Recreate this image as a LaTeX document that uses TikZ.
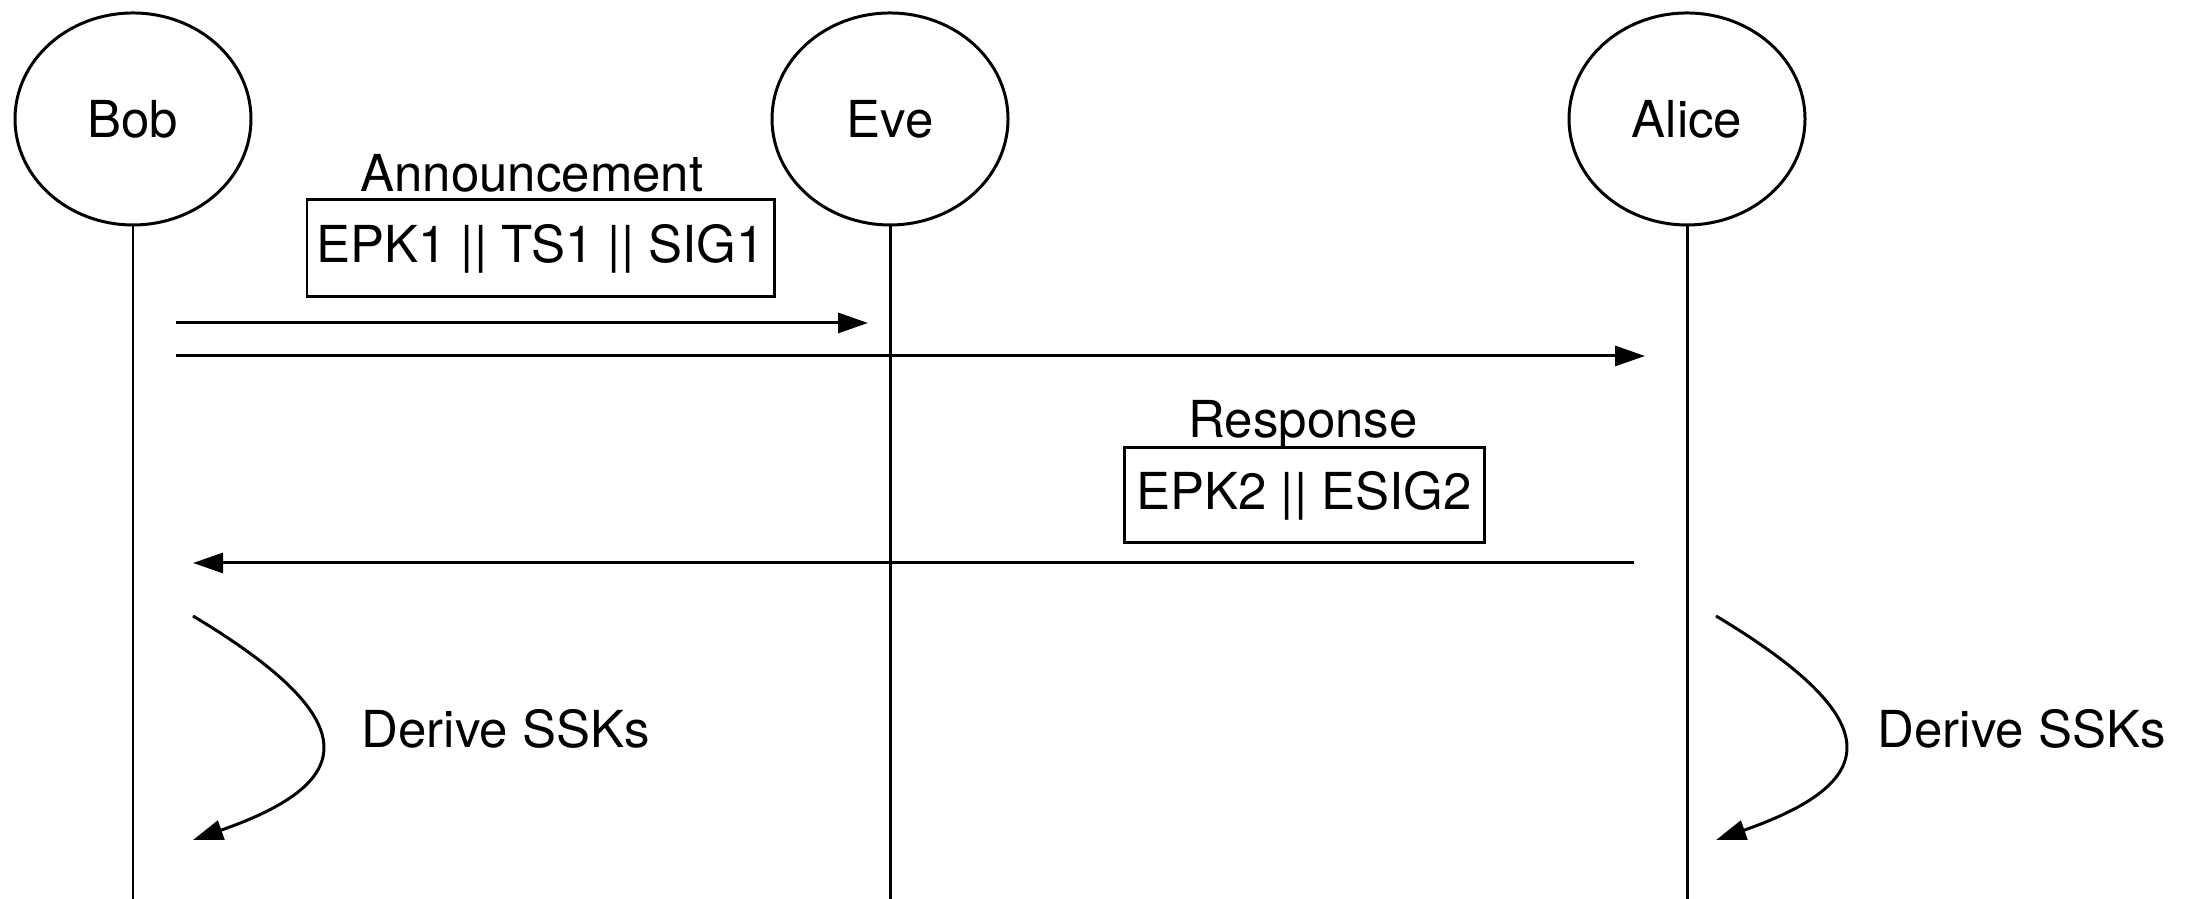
\documentclass[tikz,border=0pt]{standalone}
\usepackage{fontspec}
\setmainfont{TeX Gyre Heros}
\usepackage{tikz}
\usetikzlibrary{arrows.meta, positioning, shapes, shapes.geometric}
\tikzset{
    party/.style={ellipse, draw, line width=0.85pt, minimum width=2.36cm, minimum height=2.12cm, inner sep=0pt},
    msgbox/.style={draw, line width=0.85pt, inner sep=0pt},
    msg/.style={line width=0.85pt, -{Triangle[length=3mm, width=2mm]}},
    lifeline/.style={line width=0.85pt},
}

\begin{document}
\begin{tikzpicture}[font=\fontsize{14.5}{17}\selectfont]

    \useasboundingbox (0,0) rectangle (21.95,8.99);

    % Participants
    \node[party] (bob) at (1.33,7.80) {Bob};
    \node[party] (eve) at (8.90,7.80) {Eve};
    \node[party] (alice) at (16.87,7.80) {Alice};

    % Lifelines
    \coordinate (bobEnd) at (1.33,0);
    \coordinate (eveEnd) at (8.90,0);
    \coordinate (aliceEnd) at (16.87,0);
    \draw[lifeline] (bob.south) -- (bobEnd);
    \draw[lifeline] (eve.south) -- (eveEnd);
    \draw[lifeline] (alice.south) -- (aliceEnd);

    % Announcement
    \node[msgbox, minimum width=4.67cm, minimum height=0.97cm] (annBox) at (5.405,6.505) {EPK1 || TS1 || SIG1};
    \node[anchor=base, inner sep=0pt] (annLabel) at (5.32,7.07) {Announcement};
    \coordinate (annStartA) at (1.76,5.76);
    \coordinate (annEndA) at (8.68,5.76);
    \coordinate (annStartB) at (1.76,5.43);
    \coordinate (annEndB) at (16.45,5.43);
    \draw[msg] (annStartA) -- (annEndA);
    \draw[msg] (annStartB) -- (annEndB);

    % Response
    \node[msgbox, minimum width=3.60cm, minimum height=0.95cm] (resBox) at (13.04,4.035) {EPK2 || ESIG2};
    \node[anchor=base, inner sep=0pt] (resLabel) at (13.03,4.61) {Response};
    \coordinate (resStart) at (16.34,3.36);
    \coordinate (resEnd) at (1.93,3.36);
    \draw[msg] (resStart) -- (resEnd);

    % Key derivation
    \coordinate (bobSelfA) at (1.93,2.83);
    \coordinate (bobSelfB) at (1.93,0.59);
    \draw[msg] (bobSelfA) .. controls (3.73,1.75) and (3.53,1.15) .. (bobSelfB);
    \node[anchor=west, inner sep=0pt] (bobDerive) at (3.61,1.70) {Derive SSKs};

    \coordinate (aliceSelfA) at (17.16,2.83);
    \coordinate (aliceSelfB) at (17.16,0.59);
    \draw[msg] (aliceSelfA) .. controls (18.96,1.75) and (18.76,1.15) .. (aliceSelfB);
    \node[anchor=west, inner sep=0pt] (aliceDerive) at (18.77,1.70) {Derive SSKs};

\end{tikzpicture}
\end{document}
